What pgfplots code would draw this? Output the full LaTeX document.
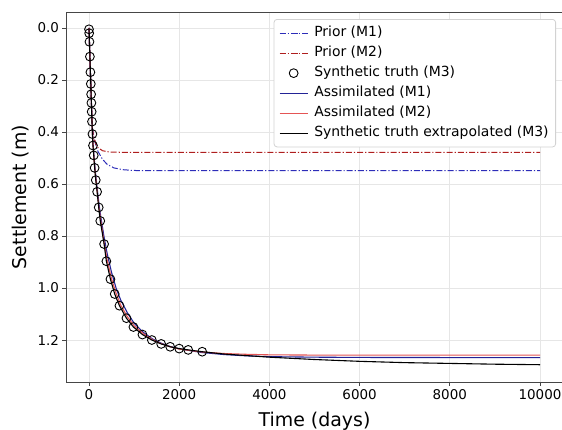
\documentclass[border=0pt]{standalone}
\usepackage{fontspec}
\setmainfont{DejaVu Sans}
\usepackage{pgfplots}
\pgfplotsset{compat=1.18}
\definecolor{priorA}{RGB}{45,45,185}
\definecolor{priorB}{RGB}{175,30,30}
\definecolor{assimA}{RGB}{35,35,150}
\definecolor{assimB}{RGB}{228,85,85}
\definecolor{gridc}{RGB}{230,230,230}
\definecolor{spine}{RGB}{70,70,70}
\definecolor{legframe}{RGB}{210,210,210}
\begin{document}
\begin{tikzpicture}
\begin{axis}[
  name=ax,
  at={(0,0)}, anchor=south west,
  scale only axis,
  width=497bp, height=370bp,
  xmin=-510, xmax=10510,
  ymin=-0.0615, ymax=1.3615,
  y dir=reverse,
  xtick={0,2000,4000,6000,8000,10000},
  ytick={0,0.2,0.4,0.6,0.8,1.0,1.2},
  scaled ticks=false,
  x tick label style={/pgf/number format/1000 sep={}},
  yticklabel style={/pgf/number format/.cd,fixed,fixed zerofill,precision=1},
  /pgf/number format/assume math mode=true,
  tick label style={font=\fontsize{13.5}{16}\selectfont},
  label style={font=\fontsize{19}{22}\selectfont},
  xlabel={Time (days)},
  ylabel={Settlement (m)},
  xlabel style={yshift=-6bp},
  ylabel style={yshift=2bp},
  grid=major,
  major grid style={draw=gridc, line width=0.7bp},
  axis line style={draw=spine, line width=0.9bp},
  tick style={draw=spine, line width=0.9bp},
  tick align=outside,
  xtick pos=bottom, ytick pos=left,
  major tick length=3.5bp,
  legend cell align=left,
  legend image code/.code={\draw[mark repeat=2,mark phase=2,#1] plot coordinates {(0bp,0bp) (14bp,0bp) (28bp,0bp)};},
  legend image post style={line width=1.2bp},
  legend style={
    at={(1,1)}, anchor=north east, xshift=-7bp, yshift=-7bp,
    font=\fontsize{14}{16}\selectfont,
    draw=legframe, line width=0.8bp, rounded corners=3bp,
    fill=white,
    inner xsep=5bp, inner ysep=5bp, row sep=2.5bp, column sep=4bp,
    nodes={inner xsep=2bp, inner ysep=2bp, text height=10bp, text depth=3.5bp},
  },
]
\addplot[draw=priorA, line width=1bp, dash pattern=on 6bp off 2bp on 1.2bp off 2bp] coordinates {
 (0,0) (20,0.11) (50,0.27) (75,0.38) (100,0.41) (150,0.45) (200,0.475) (300,0.505) (400,0.524) (550,0.538) (750,0.545) (1000,0.548) (1500,0.549) (10000,0.549)};
\addlegendentry{Prior (M1)}
\addplot[draw=priorB, line width=1bp, dash pattern=on 6bp off 2bp on 1.2bp off 2bp] coordinates {
 (0,0) (20,0.11) (50,0.27) (75,0.38) (100,0.415) (150,0.445) (200,0.46) (300,0.472) (450,0.477) (700,0.478) (10000,0.478)};
\addlegendentry{Prior (M2)}
\addplot[only marks, mark=o, mark size=4.4bp, draw=black, mark options={draw=black, line width=0.9bp}] coordinates {
 (0,0.005) (4,0.02) (10,0.053) (20,0.11) (31,0.17) (40,0.215) (47,0.255) (53,0.288) (59,0.322) (66,0.36) (76,0.408) (88,0.452) (105,0.49) (125,0.538) (150,0.585) (180,0.63) (215,0.69) (250,0.742) (335,0.831) (385,0.897) (475,0.966) (570,1.023) (675,1.068) (830,1.116) (985,1.15) (1185,1.179) (1393,1.2) (1600,1.215) (1800,1.226) (2000,1.233) (2200,1.238) (2510,1.245)};
\addlegendentry{Synthetic truth (M3)}
\addplot[draw=assimA, line width=1.1bp] coordinates {
 (0,0) (10,0.055) (20,0.11) (40,0.215) (60,0.32) (75,0.4) (90,0.445) (110,0.49) (140,0.55) (180,0.615) (220,0.675) (260,0.725) (330,0.8) (400,0.865) (500,0.94) (600,1.0) (700,1.045) (850,1.095) (1000,1.135) (1200,1.17) (1400,1.195) (1600,1.212) (1800,1.225) (2000,1.234) (2500,1.248) (3000,1.256) (3500,1.261) (4000,1.264) (5000,1.266) (6000,1.267) (10000,1.268)};
\addlegendentry{Assimilated (M1)}
\addplot[draw=assimB, line width=1.1bp] coordinates {
 (0,0) (10,0.055) (20,0.11) (40,0.215) (60,0.32) (75,0.4) (90,0.45) (110,0.5) (140,0.56) (180,0.625) (220,0.69) (260,0.74) (330,0.82) (400,0.89) (500,0.965) (600,1.02) (700,1.065) (850,1.11) (1000,1.145) (1200,1.175) (1400,1.198) (1600,1.214) (1800,1.226) (2000,1.235) (2500,1.246) (3000,1.252) (3500,1.255) (4000,1.257) (5000,1.258) (10000,1.258)};
\addlegendentry{Assimilated (M2)}
\addplot[draw=black, line width=1.1bp] coordinates {
 (0,0.005) (4,0.02) (10,0.053) (20,0.11) (31,0.17) (40,0.215) (47,0.255) (53,0.288) (59,0.322) (66,0.36) (76,0.408) (88,0.452) (105,0.49) (125,0.538) (150,0.585) (180,0.63) (215,0.69) (250,0.742) (335,0.831) (385,0.897) (475,0.966) (570,1.023) (675,1.068) (830,1.116) (985,1.15) (1185,1.179) (1393,1.2) (1600,1.215) (1800,1.226) (2000,1.233) (2200,1.238) (2510,1.245) (3000,1.254) (4000,1.266) (5000,1.275) (6000,1.282) (7000,1.287) (8000,1.29) (9000,1.293) (10000,1.295)};
\addlegendentry{Synthetic truth extrapolated (M3)}
\end{axis}
\pgfresetboundingbox
\useasboundingbox ([xshift=-66bp,yshift=-48bp]ax.south west) rectangle ([xshift=-1bp,yshift=12bp]ax.north east);
\end{tikzpicture}
\end{document}
